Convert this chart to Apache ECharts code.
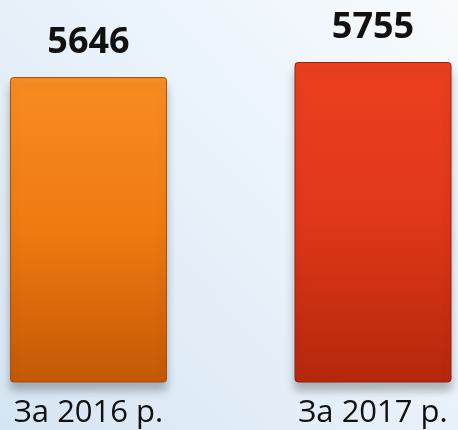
<!DOCTYPE html>
<html>
<head>
<meta charset="utf-8">
<script src="https://cdn.jsdelivr.net/npm/echarts@6/dist/echarts.min.js"></script>
<style>
html,body{margin:0;padding:0;}
#c{width:458px;height:430px;}
</style>
</head>
<body>
<div id="c"></div>
<script>
var categories = ['За 2016 р.', 'За 2017 р.'];
var values = [5646, 5755];

var palette = [
  {top: '#f88d22', mid: '#ef7a10', bottom: '#c45806', border: '#a9500c'},
  {top: '#ec4020', mid: '#e0361a', bottom: '#b4280a', border: '#962310'}
];

var chart = echarts.init(document.getElementById('c'), null, {renderer: 'canvas'});
chart.setOption({
  animation: false,
  backgroundColor: new echarts.graphic.LinearGradient(0, 1, 1, 0, [
    {offset: 0, color: '#d6e5f3'},
    {offset: 0.5, color: '#e8f1fa'},
    {offset: 1, color: '#f7fbfe'}
  ]),
  grid: {left: 88.5, right: 85, top: 62, bottom: 48, containLabel: false},
  xAxis: {
    type: 'category',
    data: categories,
    boundaryGap: false,
    axisLine: {show: false},
    axisTick: {show: false},
    axisLabel: {
      margin: 31,
      verticalAlign: 'middle',
      fontFamily: 'Open Sans',
      fontSize: 31,
      color: '#111'
    }
  },
  yAxis: {
    type: 'value',
    min: 3430,
    max: 5755,
    show: false,
    splitLine: {show: false}
  },
  series: [{
    type: 'bar',
    data: values.map(function (v, i) {
      var p = palette[i];
      return {
        value: v,
        itemStyle: {
          color: new echarts.graphic.LinearGradient(0, 0, 0, 1, [
            {offset: 0, color: p.top},
            {offset: 0.5, color: p.mid},
            {offset: 1, color: p.bottom}
          ]),
          borderColor: p.border,
          borderWidth: 1,
          borderRadius: 3,
          shadowColor: 'rgba(60,60,60,0.35)',
          shadowBlur: 8,
          shadowOffsetY: 8
        }
      };
    }),
    barWidth: 157,
    label: {
      show: true,
      position: 'top',
      distance: 16,
      fontFamily: 'Open Sans',
      fontWeight: 'bold',
      fontSize: 36,
      color: '#111'
    }
  }]
});
</script>
</body>
</html>
